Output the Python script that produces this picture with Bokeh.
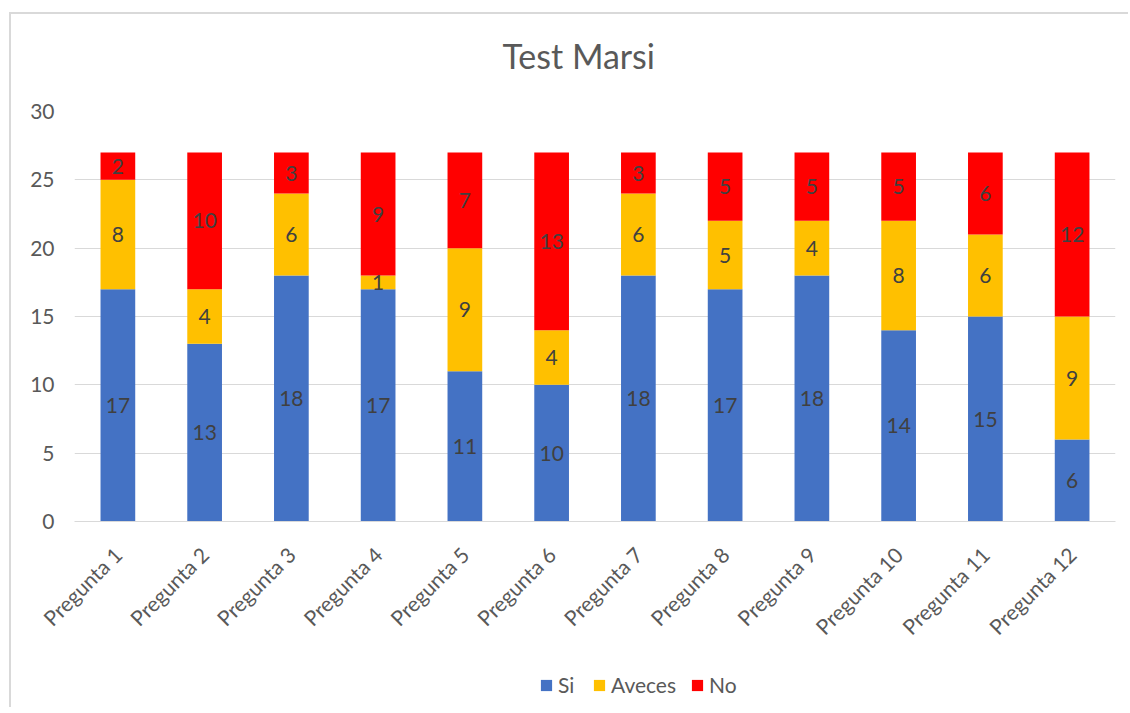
import numpy as np
from bokeh.plotting import figure
from bokeh.layouts import column
from bokeh.models import ColumnDataSource, Legend, LegendItem, FactorRange, Range1d
from bokeh.core.properties import value
from bokeh.embed import file_html
from bokeh.resources import INLINE

title_text = "Test Marsi"
categories = ["Pregunta 1", "Pregunta 2", "Pregunta 3", "Pregunta 4", "Pregunta 5", "Pregunta 6",
              "Pregunta 7", "Pregunta 8", "Pregunta 9", "Pregunta 10", "Pregunta 11", "Pregunta 12"]
si = [17, 13, 18, 17, 11, 10, 18, 17, 18, 14, 15, 6]
aveces = [8, 4, 6, 1, 9, 4, 6, 5, 4, 8, 6, 9]
no = [2, 10, 3, 9, 7, 13, 3, 5, 5, 5, 6, 12]
series_names = ["Si", "Aveces", "No"]
colors = ["#4472C4", "#FFC000", "#FF0000"]
y_ticks = [0, 5, 10, 15, 20, 25, 30]

FONT = "Lato"
GRAY = "#595959"
FS = "21px"
W = 1117

# ---- title strip ----
t = figure(width=W, height=80, x_range=Range1d(0, W), y_range=Range1d(80, 0),
           output_backend="svg", toolbar_location=None, title=None,
           x_axis_location=None, y_axis_location=None,
           min_border_left=0, min_border_right=0, min_border_top=0, min_border_bottom=0)
t.grid.grid_line_color = None
t.outline_line_color = None
t.text(x=[541], y=[41], text=[title_text], text_align="center", text_baseline="middle",
       text_font=value(FONT), text_font_size="34px", text_color=GRAY)

# ---- main chart ----
p = figure(x_range=FactorRange(*categories, range_padding=0), y_range=Range1d(0, 30),
           width=W, height=563, output_backend="svg", toolbar_location=None, title=None,
           min_border_left=63, min_border_right=13, min_border_top=17, min_border_bottom=136)
p.frame_width = 1041
p.frame_height = 410

series = [si, aveces, no]
bottom = np.zeros(len(categories))
sources = []
lab_x, lab_y, lab_t = [], [], []
for name, vals, col in zip(series_names, series, colors):
    vals = np.array(vals, dtype=float)
    top = bottom + vals
    src = ColumnDataSource(dict(x=categories, bottom=bottom, top=top))
    sources.append(src)
    p.vbar(x="x", bottom="bottom", top="top", width=0.4, source=src,
           fill_color=col, line_color=None)
    lab_x += categories
    lab_y += list((bottom + top) / 2)
    lab_t += [str(int(v)) for v in vals]
    bottom = top

tsrc = ColumnDataSource(dict(x=lab_x, y=lab_y, t=lab_t))
p.text(x="x", y="y", text="t", source=tsrc, text_align="center", text_baseline="middle",
       text_font=value(FONT), text_font_size=FS, text_color="#404040")

p.xgrid.grid_line_color = None
p.ygrid.grid_line_color = "#d9d9d9"
p.ygrid.grid_line_width = 1
p.yaxis.ticker = y_ticks
p.yaxis.axis_line_color = None
p.yaxis.major_tick_line_color = None
p.yaxis.minor_tick_line_color = None
p.yaxis.major_label_text_font = FONT
p.yaxis.major_label_text_font_size = FS
p.yaxis.major_label_text_color = GRAY
p.yaxis.major_label_standoff = 14

p.xaxis.axis_line_color = "#d9d9d9"
p.xaxis.major_tick_line_color = None
p.xaxis.minor_tick_line_color = None
p.xaxis.major_label_orientation = np.pi / 4
p.xaxis.major_label_text_font = FONT
p.xaxis.major_label_text_font_size = FS
p.xaxis.major_label_text_color = GRAY
p.xaxis.major_label_standoff = 23
p.outline_line_color = None

# ---- legend strip (zero-width copies of the series; legend swatches only) ----
q = figure(width=W, height=50, x_range=p.x_range, y_range=Range1d(-1000, -999),
           output_backend="svg", toolbar_location=None, title=None,
           x_axis_location=None, y_axis_location=None,
           min_border_left=0, min_border_right=0, min_border_top=0, min_border_bottom=0)
q.grid.grid_line_color = None
q.outline_line_color = None
items = []
for name, col, src in zip(series_names, colors, sources):
    r = q.vbar(x="x", bottom="bottom", top="top", width=0, source=src,
               fill_color=col, line_color=None)
    items.append(LegendItem(label=name, renderers=[r]))
legend = Legend(items=items, orientation="horizontal", location=(465, 10), label_text_font=FONT,
                label_text_font_size=FS, label_text_color=GRAY, glyph_width=14,
                glyph_height=14, spacing=14, label_standoff=5, border_line_color=None,
                background_fill_alpha=0, margin=0, padding=4)
q.add_layout(legend, "center")

lay = column(t, p, q, spacing=0)
lay.styles = {"border-left": "2px solid #d9d9d9", "border-top": "2px solid #d9d9d9",
              "margin-left": "9px", "margin-top": "12px"}

open("out.html", "w").write(file_html(lay, INLINE))
